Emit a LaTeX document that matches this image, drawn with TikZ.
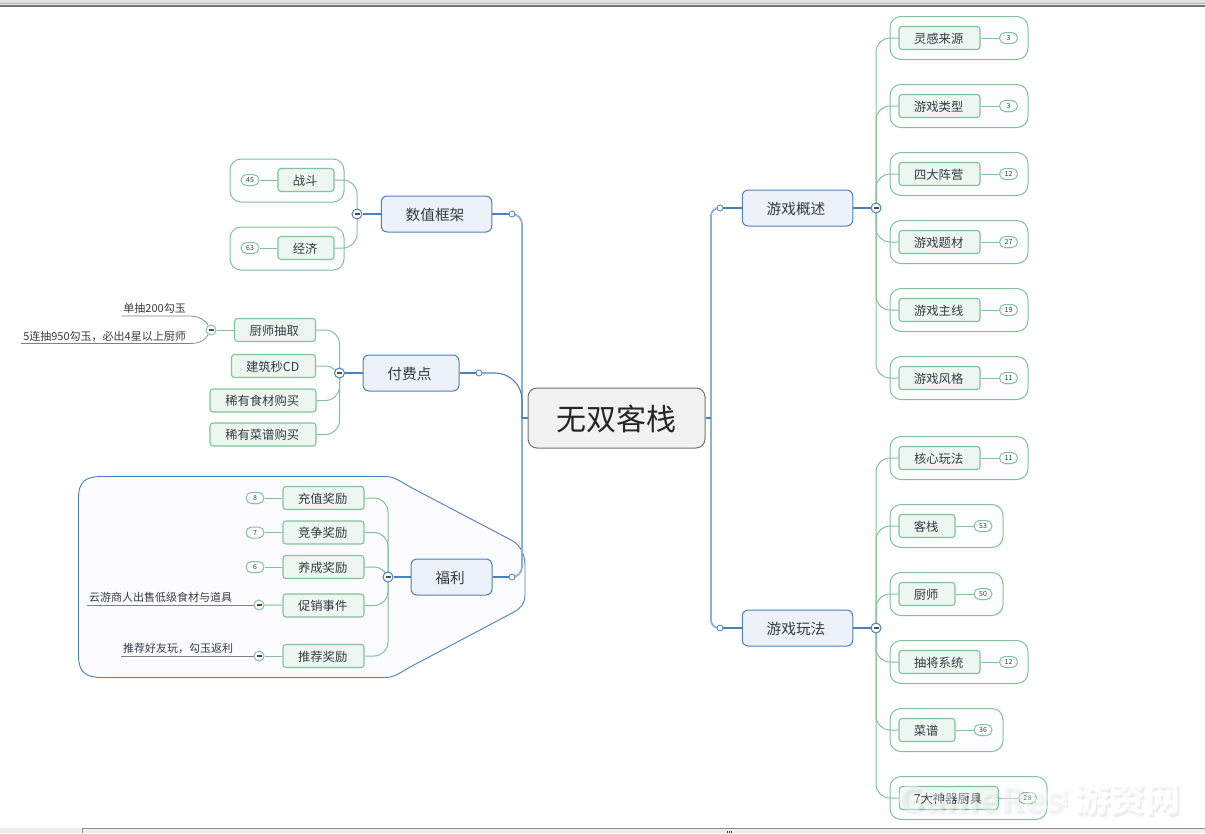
\documentclass[tikz,border=0pt]{standalone}
\usepackage{fontspec}
\setmainfont{Noto Sans CJK SC}
\usepackage{tikz}
\pgfdeclarelayer{front}
\pgfsetlayers{main,front}
\definecolor{gline}{HTML}{7FC498}
\definecolor{gfill}{HTML}{EEF6F1}
\definecolor{bline}{HTML}{4A80BD}
\definecolor{bfill}{HTML}{EDF2FA}
\definecolor{sline}{HTML}{8CB0D8}
\definecolor{ink}{HTML}{333B40}
\tikzset{
  rootbox/.style={draw=black!55, fill=black!5, line width=1pt, rounded corners=9pt, minimum width=177pt, minimum height=60pt, inner sep=0pt, text=black!85, text height=26pt, text depth=1.8pt, font=\fontsize{30}{30}\selectfont},
  mainbox/.style={draw=bline, fill=bfill, line width=1pt, rounded corners=6pt, minimum width=110.5pt, minimum height=36pt, inner sep=0pt, text=ink, text height=14pt, text depth=1.1pt, font=\fontsize{14.7}{15}\selectfont, execute at begin node={\kern-3pt}},
  tile/.style={draw=gline, fill=gfill, line width=1.1pt, rounded corners=3pt, minimum width=81pt, minimum height=23pt, inner sep=0pt, text=ink, text height=11.6pt, text depth=1pt, font=\fontsize{12.3}{13}\selectfont, execute at begin node={\kern-1.6pt}},
  frame/.style={draw=gline, fill=green!30!blue!1, line width=1pt, rounded corners=11pt, minimum width=138pt, minimum height=43pt, inner sep=0pt},
  badge/.style={draw=gline, fill=white, line width=1pt, rounded corners=5.5pt, minimum width=18pt, minimum height=11pt, inner sep=0pt, text=ink, font=\fontsize{7}{7}\selectfont},
  note/.style={inner xsep=2pt, inner ysep=2pt, text=ink, font=\fontsize{11}{11}\selectfont},
  junction/.style={draw, circle, fill=white, line width=1pt, minimum size=10pt, inner sep=0pt},
  knob/.style={draw=bline, circle, fill=white, line width=.8pt, minimum size=6pt, inner sep=0pt},
  greenline/.style={draw=gline, line width=1pt},
  blueline/.style={draw=bline, line width=1.1pt},
  spine/.style={draw=sline, line width=1.8pt},
  noteline/.style={draw=black!50, line width=.7pt},
  elbow/.style={to path={(\tikztostart.center) |- (\tikztotarget)}},
}
\newcommand{\minusbar}{\textcolor{black!70}{\rule{5pt}{1.2pt}}}
\begin{document}
\begin{tikzpicture}[x=1pt, y=-1pt, node distance=68pt]
\useasboundingbox (0,0) rectangle (1205,833);
% window edges
\fill[black!12] (0,0) rectangle (1205,3);
\fill[black!30] (0,3) rectangle (1205,4);
\fill[black!8] (0,4) rectangle (1205,5);
\fill[black!55] (0,5) rectangle (1205,7);
\fill[black!7] (0,828) rectangle (1205,833);
\draw[black!45] (82,833) -- (82,828.5) -- (1205,828.5);
\draw[black!80, line width=1.5pt, dash pattern=on 1pt off 1pt] (727,832) -- (733,832);
% group shape
\draw[draw=bline, fill=blue!30!white!4, line width=.9pt] (102,476.5) -- (385,476.5) .. controls (395,476.5) and (401,482) .. (412,488) -- (513,541) .. controls (522,547) and (525,556) .. (525,566) -- (525,595) .. controls (525,603) and (521,608) .. (514,612) -- (412,666) .. controls (401,672) and (395,677.5) .. (385,677.5) -- (102,677.5) .. controls (85,677.5) and (78.5,672) .. (78.5,655) -- (78.5,498) .. controls (78.5,482) and (85,476.5) .. (102,476.5) -- cycle;
% centre
\node (root)[rootbox] at (616.5,418) {无双客栈};
\node (a1)[mainbox] at (797.5,208) {游戏概述};
\node (a2)[mainbox] at (797.5,628) {游戏玩法};
\node (a3)[mainbox] at (436.5,214) {数值框架};
\node (a4)[mainbox, minimum width=96pt] at (411,373) {付费点};
\node (a5)[mainbox, minimum width=81pt] at (451.5,577) {福利};
\begin{pgfonlayer}{front}
\node (k1)[knob] at (720,208) {};
\node (k2)[knob] at (720,628) {};
\node (k3)[knob] at (512,214) {};
\node (k4)[knob] at (479,373) {};
\node (k5)[knob] at (512,577) {};
\node (j1)[junction, draw=bline] at (876,208) {\minusbar};
\node (j2)[junction, draw=bline] at (876,628) {\minusbar};
\node (j3)[junction, draw=bline] at (357,214) {\minusbar};
\node (j4)[junction, draw=bline] at (339.5,373) {\minusbar};
\node (j5)[junction, draw=bline] at (388,577) {\minusbar};
\node (j6)[junction, draw=gline] at (211,330) {\minusbar};
\node (j7)[junction, draw=gline] at (259,605) {\minusbar};
\node (j8)[junction, draw=gline] at (259,656) {\minusbar};
\end{pgfonlayer}
% right top
\node (f1)[frame] at (959,38) {};
\node (f2)[frame, below of=f1] {};
\node (f3)[frame, below of=f2] {};
\node (f4)[frame, below of=f3] {};
\node (f5)[frame, below of=f4] {};
\node (f6)[frame, below of=f5] {};
\node (t1)[tile] at (939.5,38) {灵感来源};
\node (t2)[tile, below of=t1] {游戏类型};
\node (t3)[tile, below of=t2] {四大阵营};
\node (t4)[tile, below of=t3] {游戏题材};
\node (t5)[tile, below of=t4] {游戏主线};
\node (t6)[tile, below of=t5] {游戏风格};
\node (c1)[badge] at (1008.5,38) {3};
\node (c2)[badge, below of=c1] {3};
\node (c3)[badge, below of=c2] {12};
\node (c4)[badge, below of=c3] {27};
\node (c5)[badge, below of=c4] {19};
\node (c6)[badge, below of=c5] {11};
% right bottom
\node (f7)[frame] at (959,458) {};
\node (f8)[frame, minimum width=113pt] at (946.5,526) {};
\node (f9)[frame, minimum width=113pt] at (946.5,594) {};
\node (f10)[frame] at (959,662) {};
\node (f11)[frame, minimum width=113pt] at (946.5,730) {};
\node (f12)[frame, minimum width=157pt] at (968.5,798) {};
\node (t7)[tile] at (939.5,458) {核心玩法};
\node (t8)[tile, minimum width=56pt] at (927,526) {客栈};
\node (t9)[tile, minimum width=56pt] at (927,594) {厨师};
\node (t10)[tile] at (939.5,662) {抽将系统};
\node (t11)[tile, minimum width=56pt] at (927,730) {菜谱};
\node (t12)[tile, minimum width=99pt] at (948.8,798) {7大神器厨具};
\node (c7)[badge] at (1008.5,458) {11};
\node (c8)[badge] at (983,526) {53};
\node (c9)[badge] at (983,594) {50};
\node (c10)[badge] at (1008.5,662) {12};
\node (c11)[badge] at (983,730) {36};
\node (c12)[badge] at (1027.5,798) {28};
% value framework
\node (f13)[frame, minimum width=114pt] at (287,180.5) {};
\node (f14)[frame, minimum width=114pt] at (287,248.5) {};
\node (t13)[tile, minimum width=56pt] at (306,180) {战斗};
\node (t14)[tile, minimum width=56pt] at (306,248) {经济};
\node (c13)[badge] at (250,180) {45};
\node (c14)[badge] at (250,248) {63};
% paid points
\node (t15)[tile, minimum width=81pt] at (275,330) {厨师抽取};
\node (t16)[tile, minimum width=84pt] at (273.5,366) {建筑秒CD};
\node (t17)[tile, minimum width=106pt] at (263,400.5) {稀有食材购买};
\node (t18)[tile, minimum width=106pt] at (263,434.5) {稀有菜谱购买};
\node (n1)[note, anchor=south east] at (188,316) {单抽200勾玉};
\node (n2)[note, anchor=south east] at (188,343.5) {5连抽950勾玉，必出4星以上厨师};
% benefits
\node (t19)[tile, minimum width=81pt] at (323.5,498) {充值奖励};
\node (t20)[tile, minimum width=81pt] at (323.5,532.5) {竞争奖励};
\node (t21)[tile, minimum width=81pt] at (323.5,567) {养成奖励};
\node (t22)[tile, minimum width=81pt] at (323.5,605.5) {促销事件};
\node (t23)[tile, minimum width=81pt] at (323.5,656) {推荐奖励};
\node (c15)[badge] at (255,498) {8};
\node (c16)[badge] at (255,532.5) {7};
\node (c17)[badge] at (255,567) {6};
\node (n3)[note, anchor=south west] at (87,605) {云游商人出售低级食材与道具};
\node (n4)[note, anchor=south west] at (121,656) {推荐好友玩，勾玉返利};
% connectors
\draw[spine, rounded corners=8pt] (711,418) |- (k1);
\draw[spine, rounded corners=8pt] (711,418) |- (k2);
\draw[spine, rounded corners=10pt] (522,418) |- (k3);
\draw[blueline, rounded corners=27pt] (522,418) |- (k4);
\draw[spine, rounded corners=10pt] (522,418) |- (k5);
\path[blueline] (root)edge(711,418)
	(root)edge(522,418)
	(a1)edge(k1)
	(a2)edge(k2)
	(a3)edge(k3)
	(a4)edge(k4)
	(a5)edge(k5)
	(a1)edge(j1)
	(a2)edge(j2)
	(a3)edge(j3)
	(a4)edge(j4)
	(a5)edge(j5);
\path[greenline, rounded corners=14pt] (j1)edge[elbow](t1)
	(j1)edge[elbow](t2)
	(j1)edge[elbow](t3)
	(j1)edge[elbow](t4)
	(j1)edge[elbow](t5)
	(j1)edge[elbow](t6)
	(j2)edge[elbow](t7)
	(j2)edge[elbow](t8)
	(j2)edge[elbow](t9)
	(j2)edge[elbow](t10)
	(j2)edge[elbow](t11)
	(j2)edge[elbow](t12)
	(j3)edge[elbow](t13)
	(j3)edge[elbow](t14)
	(j4)edge[elbow](t15)
	(j4)edge[elbow](t16)
	(j4)edge[elbow](t17)
	(j4)edge[elbow](t18)
	(j5)edge[elbow](t19)
	(j5)edge[elbow](t20)
	(j5)edge[elbow](t21)
	(j5)edge[elbow](t22)
	(j5)edge[elbow](t23);
\path[greenline] (t1)edge(c1) (t2)edge(c2) (t3)edge(c3) (t4)edge(c4) (t5)edge(c5) (t6)edge(c6)
	(t7)edge(c7) (t8)edge(c8) (t9)edge(c9) (t10)edge(c10) (t11)edge(c11) (t12)edge(c12)
	(t13)edge(c13) (t14)edge(c14) (t19)edge(c15) (t20)edge(c16) (t21)edge(c17)
	(t15)edge(j6) (t22)edge(j7) (t23)edge(j8);
\draw[noteline] (n1.south west) -- (n1.south east) .. controls (200,316) and (205,320) .. (j6);
\draw[noteline] (n2.south west) -- (n2.south east) .. controls (200,344) and (205,340) .. (j6);
\draw[noteline] (n3.south west) -- (j7);
\draw[noteline] (n4.south west) -- (j8);
% watermark
\begin{pgfonlayer}{front}
\node (w0)[text=black, opacity=.05, font=\fontsize{35}{35}\selectfont\bfseries] at (983,801) {GameRes};
\node (w1)[text=black, opacity=.07, font=\fontsize{35}{35}\selectfont\bfseries] at (1130,801) {游资网};
\node (w2)[text=black, opacity=.07, rotate=90, font=\fontsize{8}{8}\selectfont\bfseries] at (1066,801) {.com};
\node (w3)[text=white, opacity=.4, font=\fontsize{35}{35}\selectfont\bfseries] at (980,798) {GameRes};
\node (w4)[text=white, opacity=.95, font=\fontsize{35}{35}\selectfont\bfseries] at (1127.5,798) {游资网};
\node (w5)[text=white, opacity=.95, rotate=90, font=\fontsize{8}{8}\selectfont\bfseries] at (1064,798) {.com};
\end{pgfonlayer}
\end{tikzpicture}
\end{document}
